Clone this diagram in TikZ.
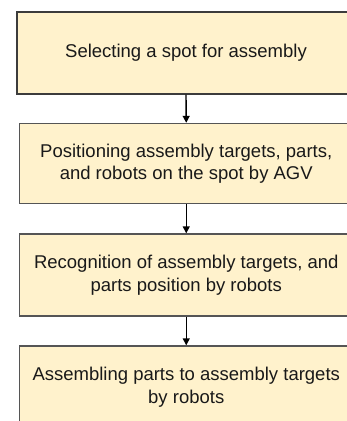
\documentclass[tikz,border=0pt]{standalone}
\usepackage{fontspec}
\setmainfont{Liberation Sans}
\usetikzlibrary{arrows.meta}
\definecolor{boxfill}{HTML}{FFF2CC}
\definecolor{boxline}{HTML}{3C3C3C}
\definecolor{boxlineb}{HTML}{555555}
\tikzset{
  stepbox/.style={draw=boxlineb, line width=1.4pt, fill=boxfill, rectangle,
    minimum width=333.5pt, minimum height=82pt, inner sep=0pt, align=center,
    font=\fontsize{18.5}{22.5}\selectfont, text=black!90},
  flowarrow/.style={draw=black, line width=1.4pt, -{Triangle[length=7pt,width=7pt]}}
}
\begin{document}
\begin{tikzpicture}[x=1pt,y=-1pt]
\useasboundingbox (0,0) rectangle (347,421);
\clip (0,0) rectangle (347,421);
\node[stepbox, draw=boxline, minimum width=338pt] (b1) at (186,53) {Selecting a spot for assembly};
\node[stepbox, minimum height=80pt] (b2) at (186.25,163.5) {Positioning assembly targets, parts,\\and robots on the spot by AGV};
\node[stepbox] (b3) at (186.25,275) {Recognition of assembly targets, and\\parts position by robots};
\node[stepbox] (b4) at (186.25,387) {Assembling parts to assembly targets\\by robots};
\draw[flowarrow] (b1.south) -- (b2.north);
\draw[flowarrow] (b2.south) -- (b3.north);
\draw[flowarrow] (b3.south) -- (b4.north);
\end{tikzpicture}
\end{document}
